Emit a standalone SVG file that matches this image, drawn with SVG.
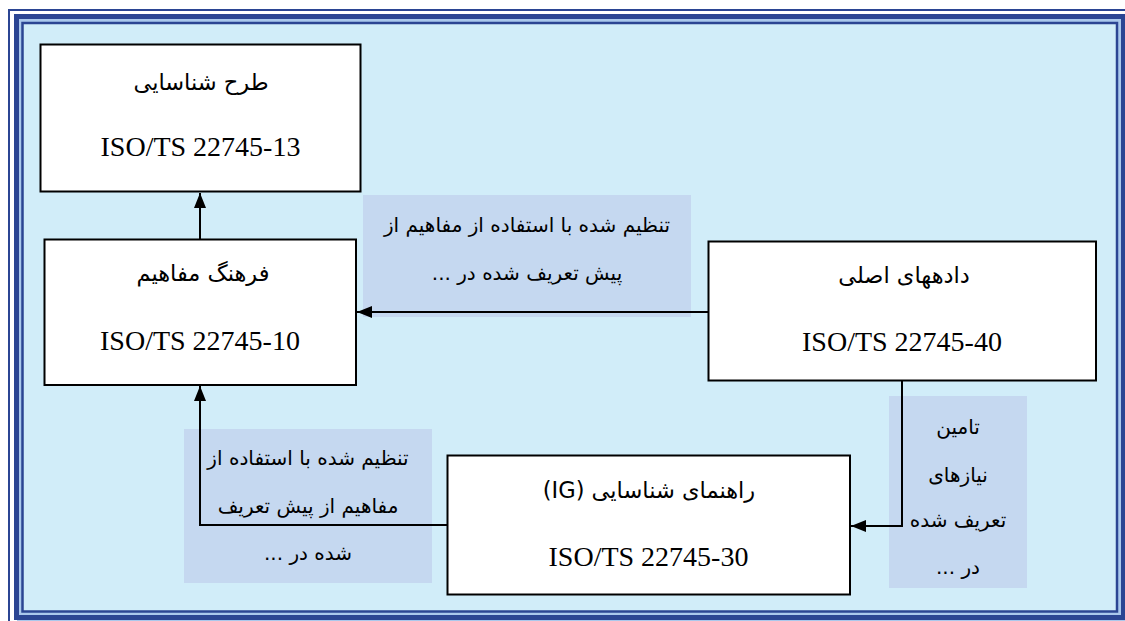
<svg xmlns="http://www.w3.org/2000/svg" width="1125" height="621" viewBox="0 0 1125 621">
<defs>
<style>
.frame{fill:none;stroke:#2b4593}
.node rect{fill:#ffffff;stroke:#000000;stroke-width:2}
.lab{fill:#c5d8f0}
.fa{font-family:"DejaVu Sans",sans-serif;font-size:20px;fill:#000;text-anchor:middle;direction:rtl}
.tt{font-size:22.5px}
.iso{font-family:"Liberation Serif","Times New Roman",serif;font-size:28px;fill:#000;text-anchor:middle}
.conn{fill:none;stroke:#000;stroke-width:2}
</style>
<marker id="ah" markerWidth="15" markerHeight="12" refX="15" refY="6" orient="auto" markerUnits="userSpaceOnUse">
<path d="M0,0 L15,6 L0,12 Z" fill="#000"/>
</marker>
</defs>
<rect x="0" y="0" width="1125" height="621" fill="#ffffff"/>
<!-- frame -->
<rect x="17" y="17" width="1110" height="610" fill="#aac8ec"/>
<rect x="22.5" y="23" width="1094.5" height="588.5" fill="#d1edf9" stroke="#2b4593" stroke-width="2.5"/>
<rect class="frame" x="9" y="10" width="1130" height="620" stroke-width="2"/>
<rect class="frame" x="16.5" y="16.5" width="1107" height="601" stroke-width="5"/>
<!-- label boxes -->
<g id="labels">
<rect class="lab" x="363" y="195" width="328" height="122"/>
<rect class="lab" x="184" y="429" width="248" height="154"/>
<rect class="lab" x="889" y="396" width="138" height="192"/>
</g>
<!-- label texts -->
<g id="label-texts">
<text class="fa" x="527" y="232">تنظیم شده با استفاده از مفاهیم از</text>
<text class="fa" x="527" y="280">پیش تعریف شده در ...</text>
<text class="fa" x="308" y="465">تنظیم شده با استفاده از</text>
<text class="fa" x="308" y="513">مفاهیم از پیش تعریف</text>
<text class="fa" x="308" y="560">شده در ...</text>
<text class="fa" x="958" y="434">تامین</text>
<text class="fa" x="958" y="482">نیازهای</text>
<text class="fa" x="958" y="527">تعریف شده</text>
<text class="fa" x="958" y="574">در ...</text>
</g>
<!-- connectors -->
<g id="connectors">
<line class="conn" x1="200" y1="239" x2="200" y2="193" marker-end="url(#ah)"/>
<line class="conn" x1="709" y1="312" x2="357" y2="312" marker-end="url(#ah)"/>
<polyline class="conn" points="448,525 200,525 200,386" marker-end="url(#ah)"/>
<polyline class="conn" points="902,381 902,526 851,526" marker-end="url(#ah)"/>
</g>
<!-- nodes -->
<g id="node-13" class="node">
<rect x="40.5" y="44.5" width="320" height="147"/>
<text class="fa tt" x="201" y="90">طرح شناسایی</text>
<text class="iso" x="200.5" y="156">ISO/TS 22745-13</text>
</g>
<g id="node-10" class="node">
<rect x="44.5" y="239.5" width="311.5" height="145.5"/>
<text class="fa tt" x="203" y="281">فرهنگ مفاهیم</text>
<text class="iso" x="200" y="350">ISO/TS 22745-10</text>
</g>
<g id="node-40" class="node">
<rect x="708.5" y="241.5" width="387.5" height="139"/>
<text class="fa tt" x="904" y="283">دادههای اصلی</text>
<text class="iso" x="902" y="351">ISO/TS 22745-40</text>
</g>
<g id="node-30" class="node">
<rect x="447.5" y="455.5" width="402.5" height="139"/>
<text class="fa tt" x="649" y="498">راهنمای شناسایی (IG)</text>
<text class="iso" x="648.5" y="566">ISO/TS 22745-30</text>
</g>
</svg>
